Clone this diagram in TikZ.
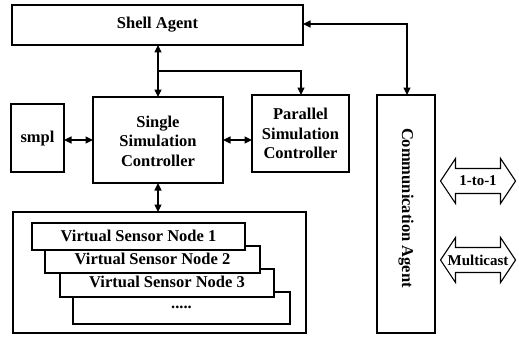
\documentclass[tikz,border=0pt]{standalone}
\usepackage{fontspec}
\setmainfont{Liberation Serif}
\usetikzlibrary{arrows.meta}
\begin{document}
\begin{tikzpicture}[x=1pt,y=-1pt,
  box/.style={draw,line width=1.1pt,fill=white},
  lbl/.style={font=\bfseries\fontsize{16.5}{19.5}\selectfont,align=center,inner sep=0},
  slbl/.style={font=\bfseries\fontsize{15}{18}\selectfont,inner sep=0},
  conn/.style={line width=1.2pt,-{Triangle[length=7.5pt,width=7pt]}},
  bconn/.style={line width=1.2pt,{Triangle[length=7.5pt,width=7pt]}-{Triangle[length=7.5pt,width=7pt]}},
  dblarrow/.pic={\draw[line width=1.1pt,fill=white] (-37.5,0) -- (-22.5,-22.5) -- (-22.5,-12.5) -- (22.5,-12.5) -- (22.5,-22.5) -- (37.5,0) -- (22.5,22.5) -- (22.5,12.5) -- (-22.5,12.5) -- (-22.5,22.5) -- cycle;}]
\useasboundingbox (0,0) rectangle (519,337);
% boxes
\draw[box] (12,5) rectangle (303,45);
\node[lbl] (shell) at (157.5,25) {Shell Agent};
\coordinate (shellR) at (303,24);
\draw[box] (93,97) rectangle (223,183);
\node[lbl] (single) at (158,141) {Single\\Simulation\\Controller};
\draw[box] (252,95) rectangle (349,172);
\node[lbl] (par) at (300.5,133.5) {Parallel\\Simulation\\Controller};
\draw[box] (11,104) rectangle (64,172);
\node[lbl] (smpl) at (37.5,139) {smpl};
\draw[box] (377,95) rectangle (435,333);
\node[lbl,rotate=-90] (comm) at (406,208) {Communication Agent};
\draw[box] (13,212) rectangle (306,333);
\draw[box] (73,292) rectangle (290,324);
\node[lbl] (dots) at (181.5,307) {.....};
\draw[box] (60,269) rectangle (274,297);
\node[lbl] (v3) at (167,282) {Virtual Sensor Node 3};
\draw[box] (45,246) rectangle (260,273);
\node[lbl] (v2) at (152.5,259) {Virtual Sensor Node 2};
\draw[box] (32,223) rectangle (245,250);
\node[lbl] (v1) at (138.5,236) {Virtual Sensor Node 1};
% connectors
\coordinate (sb) at (158,45);
\coordinate (st) at (158,97);
\coordinate (sbot) at (158,183);
\coordinate (otop) at (158,212);
\coordinate (br) at (158,71);
\coordinate (pt) at (301,95);
\coordinate (ct) at (407,95);
\coordinate (smplR) at (64,140);
\coordinate (singL) at (93,140);
\coordinate (singR) at (223,140);
\coordinate (parL) at (252,140);
\draw[bconn] (sb) -- (st);
\draw[conn] (br) -| (pt);
\draw[bconn] (shellR) -| (ct);
\draw[bconn] (smplR) -- (singL);
\draw[bconn] (singR) -- (parL);
\draw[bconn] (sbot) -- (otop);
% block arrows
\pic at (478,181) {dblarrow};
\node[slbl] (one) at (478,181) {1-to-1};
\pic at (478,260) {dblarrow};
\node[slbl] (multi) at (478,260) {Multicast};
\end{tikzpicture}
\end{document}
